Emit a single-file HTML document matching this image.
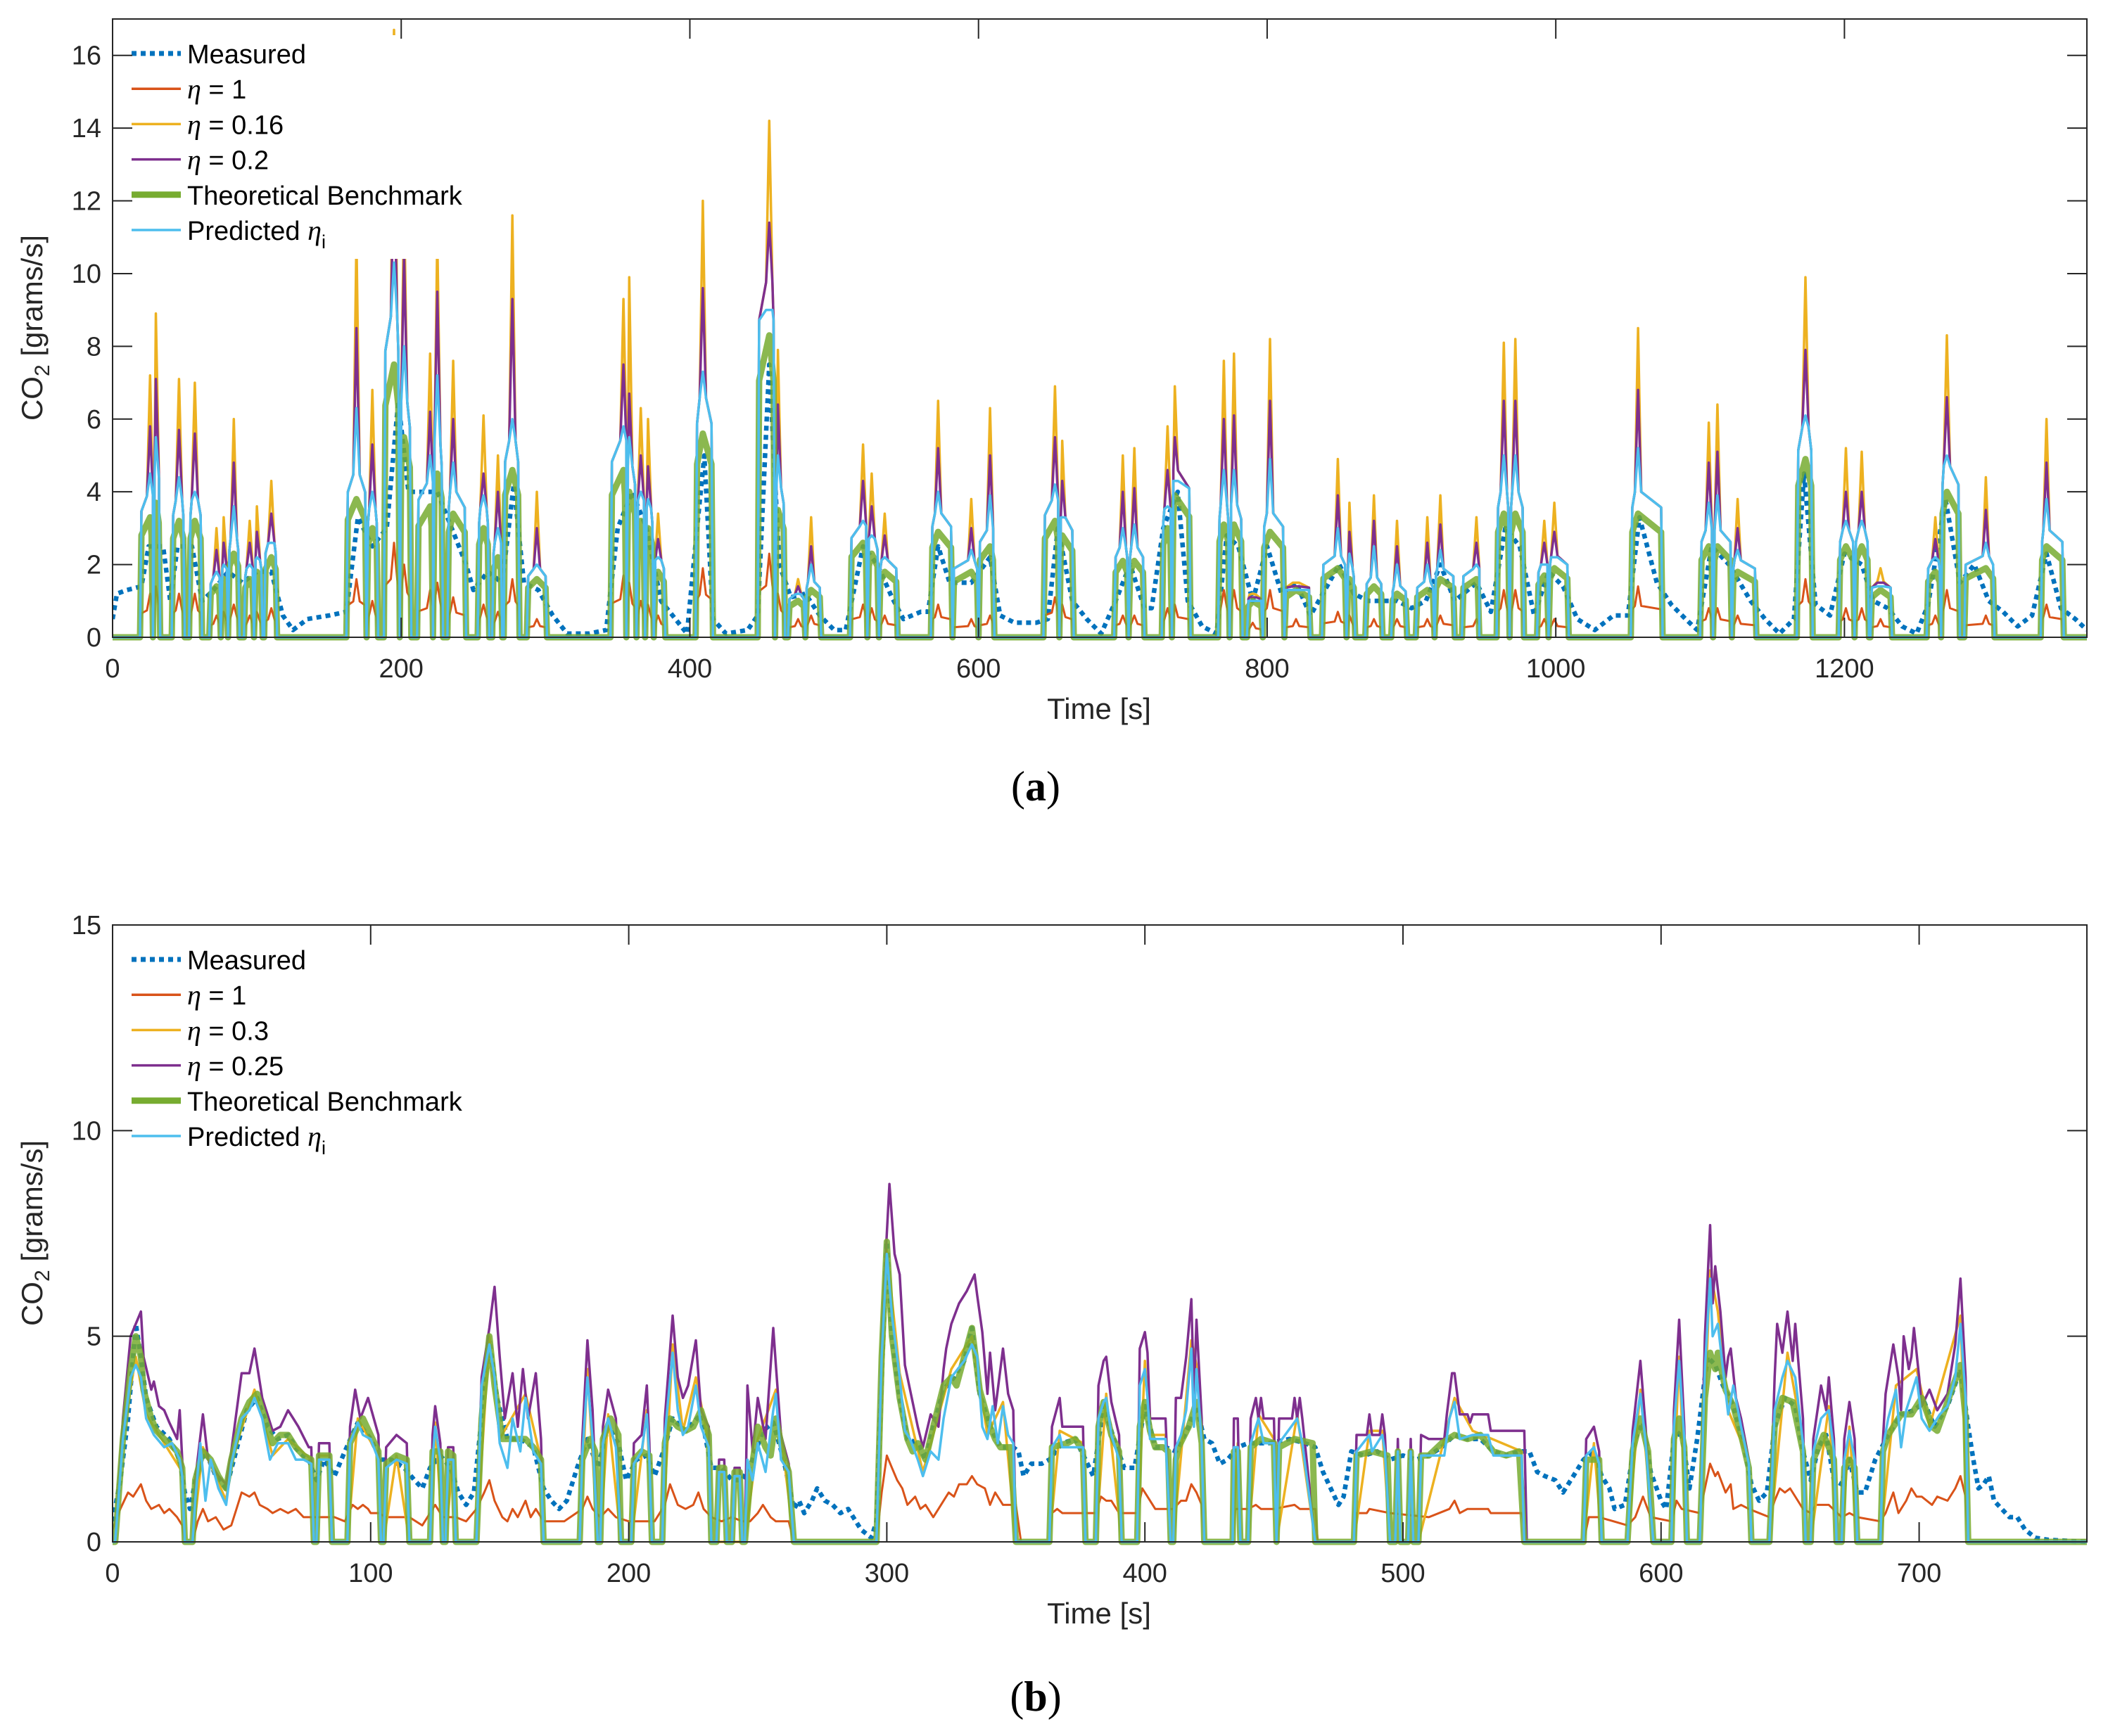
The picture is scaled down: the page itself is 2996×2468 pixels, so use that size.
<!DOCTYPE html>
<html><head><meta charset="utf-8"><style>
html,body{margin:0;padding:0;background:#fff;}
svg{display:block;}
text{font-family:"Liberation Sans",Arial,sans-serif;fill:#262626;}
.eta{font-family:"Liberation Serif",serif;font-style:italic;}
</style></head><body>
<svg id="fig" xmlns="http://www.w3.org/2000/svg" width="2996" height="2468" viewBox="0 0 2996 2468">
<defs>
<clipPath id="clipTop"><rect x="160" y="27" width="2806" height="886"/></clipPath>
<clipPath id="clipBot"><rect x="160" y="1315" width="2806" height="884"/></clipPath>
</defs>
<rect x="0" y="0" width="2996" height="2468" fill="#fff"/>
<g id="chartA"></g>
<g id="chartB"></g>

<text x="1562" y="1022" font-size="42" text-anchor="middle">Time [s]</text>
<text transform="translate(60,466) rotate(-90)" font-size="42" text-anchor="middle">CO<tspan font-size="30" dy="10">2</tspan><tspan dy="-10"> [grams/s]</tspan></text>
<text x="1472" y="1138" font-size="60" text-anchor="middle" style="font-family:'Liberation Serif',serif;fill:#000">(<tspan font-weight="bold">a</tspan>)</text>
<text x="1562" y="2308" font-size="42" text-anchor="middle">Time [s]</text>
<text transform="translate(60,1753) rotate(-90)" font-size="42" text-anchor="middle">CO<tspan font-size="30" dy="10">2</tspan><tspan dy="-10"> [grams/s]</tspan></text>
<text x="1472" y="2432" font-size="60" text-anchor="middle" style="font-family:'Liberation Serif',serif;fill:#000">(<tspan font-weight="bold">b</tspan>)</text>
</svg>
<script>
// ---------- Chart (a) data ----------
const aXTicks = [0,200,400,600,800,1000,1200];
const aYTicks = [0,2,4,6,8,10,12,14,16];
const aMeasured = [0,0.5,3,1.2,10,1.3,20,1.4,25,2.5,35,2.5,40,1.0,45,2.5,55,2.5,62,1.0,70,1.3,80,1.8,90,1.5,100,1.8,110,1.8,118,0.6,125,0.2,135,0.5,150,0.6,162,0.7,170,3.3,180,2.5,190,3,198,6.5,205,4,215,4,225,4,235,3,245,2,250,1.3,260,1.8,270,1.5,278,4.2,285,1.5,295,1.3,305,0.6,315,0.1,330,0.1,342,0.2,350,3.0,360,4,370,3,380,1.0,390,0.5,398,0.1,405,3,410,5,416,0.5,425,0.1,440,0.2,447,0.6,455,7.5,462,2,470,1.1,480,1.2,490,0.6,500,0.2,508,0.2,520,2.5,530,2.0,540,1.1,548,0.5,560,0.7,565,0.7,572,2.5,580,1.5,595,1.5,608,2.2,615,0.6,625,0.4,640,0.4,648,0.5,655,3.0,665,1.0,675,0.5,685,0.1,695,1.0,705,2,715,0.8,720,0.8,728,3,738,4,745,1.0,755,0.3,765,0.1,772,2.8,780,2.5,790,1.0,800,2.5,810,1.2,820,1.5,830,0.6,840,1.3,850,2,860,1.2,870,1.0,880,1.0,890,1.0,900,0.8,910,1.0,920,2,930,1.0,945,1.5,955,0.7,965,3,975,2.5,985,0.6,995,1.8,1005,1.4,1015,0.5,1027,0.2,1040,0.6,1050,0.6,1058,3.3,1070,1.5,1080,0.9,1090,0.5,1098,0.2,1108,2.5,1120,2,1135,1.0,1145,0.5,1155,0.1,1165,0.5,1172,4.5,1180,0.9,1190,0.6,1200,2.3,1212,2,1220,1.0,1230,0.8,1240,0.3,1250,0.1,1258,0.9,1270,3.8,1280,1.5,1290,2,1300,1.0,1310,0.7,1320,0.3,1330,0.6,1340,2.3,1350,0.8,1360,0.5,1368,0.2];
const aSpikeStart = [19,28,41,53,67,75,80,91,98,105,162,176,188,199,211,222,232,253,263,271,287,345,356,363,369,375,404,447,459,468,480,511,523,531,567,582,600,645,656,694,704,727,734,766,774,786,797,812,838,855,868,886,903,916,935,959,968,987,995,1052,1100,1109,1122,1167,1196,1207,1218,1257,1267,1283,1336];
const aSpikePeakT = [26,30,46,57,72,77,84,95,100,110,169,180,195,202,220,225,236,257,267,277,294,354,358,366,371,378,409,455,461,475,484,520,526,535,572,595,608,653,658,700,708,731,736,770,777,790,802,820,849,857,874,890,911,920,945,964,972,992,999,1057,1106,1112,1126,1173,1201,1212,1225,1263,1271,1298,1340];
const aSpikeEnd = [28,33,50,62,75,80,88,98,104,114,176,184,199,207,222,229,245,261,270,282,301,356,363,369,375,383,416,459,466,480,491,523,531,544,582,600,611,656,666,704,715,734,747,774,783,797,812,830,855,861,880,897,916,930,947,968,978,995,1009,1074,1109,1122,1139,1178,1207,1217,1233,1267,1280,1304,1352];
const aEta016 = [7.2,8.9,7.1,7.0,3.0,3.3,6.0,3.2,3.6,4.3,11,6.8,16.7,12,7.8,11,7.6,6.1,5.0,11.6,4.0,9.3,9.9,6.3,6.0,3.4,12.0,14.2,7.9,1.6,3.3,5.3,4.5,3.4,6.5,3.8,6.3,6.9,5.4,5.0,5.2,5.8,6.9,7.6,7.8,1.2,8.2,1.5,4.9,3.7,3.9,3.2,3.3,3.9,3.3,8.1,8.2,3.2,3.7,8.5,5.9,6.4,3.8,9.9,5.2,5.1,1.9,3.3,8.3,4.4,6.0];
const aEta02 = [5.8,7.1,5.7,5.6,2.4,2.6,4.8,2.6,2.9,3.4,8.5,5.3,13,10.5,6.2,9.5,6.0,4.5,4.0,9.3,3.0,7.5,6.7,5.0,4.7,2.7,9.6,11.4,6.4,1.4,2.5,4.3,3.6,2.8,5.2,3.0,5.0,5.5,4.3,4.0,4.1,4.6,5.5,6.0,6.1,1.1,6.5,1.4,3.9,2.9,3.2,2.5,2.6,3.1,2.6,6.5,6.5,2.6,2.9,6.8,4.8,5.1,3.0,7.9,4.0,4.0,1.5,2.7,6.6,3.5,4.8];
const aPredicted = [4.5,5.5,4.4,4.0,1.8,2.0,3.6,2.0,2.2,2.6,6.3,4.0,10.3,8,5.0,7.2,4.8,3.9,3.0,6.0,2.0,5.8,5.5,4.0,3.8,2.2,7.3,9.0,5.0,1.2,2.0,3.2,2.8,2.2,4.0,2.4,3.9,4.2,3.3,3.0,3.1,3.6,4.3,4.6,4.6,1.0,4.9,1.3,3.0,2.3,2.5,2.0,2.0,2.4,2.0,5.0,5.0,2.0,2.2,5.2,3.7,3.9,2.4,6.1,3.2,3.2,1.4,2.2,5.0,2.6,3.8];
const aBenchmark = [3.3,3.7,3.2,3.2,1.4,1.6,2.3,1.6,1.8,2.2,3.8,3.0,7.5,5.5,3.6,4.5,3.4,3.0,2.2,4.6,1.6,4.6,4.0,3.2,3.0,1.8,5.6,8.3,3.5,1.0,1.3,2.6,2.3,1.8,2.9,1.8,2.5,3.2,2.8,2.1,2.1,3.0,3.9,3.1,3.1,1.0,2.9,1.3,1.9,1.6,1.4,1.2,1.3,1.6,1.6,3.4,3.4,1.7,1.9,3.4,2.5,2.5,1.8,4.9,2.5,2.5,1.3,1.8,4.0,1.9,2.5];
const aEta1 = [1.2,1.4,1.2,1.2,0.6,0.7,0.9,0.6,0.7,0.8,1.6,1.0,2.6,2.0,1.3,1.5,1.1,0.9,0.7,1.6,0.5,1.7,1.5,1.0,0.9,0.6,1.9,2.3,1.2,0.5,0.6,0.9,0.8,0.6,0.9,0.5,0.6,1.1,0.9,0.6,0.6,0.8,0.9,1.3,1.3,0.4,1.3,0.5,0.7,0.6,0.5,0.5,0.5,0.6,0.5,1.3,1.3,0.5,0.5,1.4,0.8,0.8,0.6,1.6,0.8,0.8,0.5,0.6,1.3,0.6,0.9];

// ---------- Chart (b) data (flat time,value pairs) ----------
const bXTicks = [0,100,200,300,400,500,600,700];
const bYTicks = [0,5,10,15];
const bMeasured = [0,0.5,3,1.5,6,3.0,9,5.3,11,4.5,13,3.5,17,2.8,22,2.5,26,2.0,28,1.2,30,0.8,33,1.8,36,2.2,40,1.6,44,1.3,47,2.0,52,3.2,56,3.5,60,2.8,64,2.5,68,2.6,72,2.2,76,2.0,79,1.5,82,2.0,86,1.6,90,2.2,95,2.9,100,2.5,104,2.0,108,2.0,113,1.8,117,1.5,120,1.3,123,1.8,127,2.1,131,1.8,134,1.2,137,0.9,140,1.2,143,3.0,146,4.9,149,3.5,153,2.5,158,2.5,163,2.3,167,1.3,170,1.0,173,0.8,176,1.0,180,1.8,184,2.5,188,1.8,192,2.8,196,2.4,199,1.5,203,2.0,207,2.1,210,1.6,214,2.3,217,3.0,222,2.7,228,3.1,232,1.8,236,1.8,240,1.5,244,1.5,248,2.0,252,2.7,256,2.9,260,2.0,264,0.8,266,1.0,268,0.7,271,1.0,273,1.3,276,1.0,279,0.9,282,0.7,285,0.8,290,0.3,294,0.1,296,0.5,298,4.0,300,7.3,302,5.0,305,3.5,308,2.5,312,2.4,315,2.0,318,2.8,322,3.7,326,4.0,330,4.4,333,5.2,336,3.6,340,2.8,344,2.3,349,2.3,351,2.2,353,1.6,356,1.9,360,1.9,363,2.0,368,2.4,373,2.5,377,2.0,380,1.6,384,3.3,388,2.5,392,1.8,396,1.8,400,3.3,404,2.3,408,2.3,412,2.2,417,2.8,420,3.3,423,2.5,426,2.4,429,1.9,432,2.0,436,2.3,440,2.4,448,2.4,456,2.5,462,2.4,466,2.3,469,1.7,472,1.3,475,0.9,477,1.1,480,2.2,485,2.1,490,2.2,495,2.0,500,2.1,505,2.0,510,2.1,515,2.3,520,2.6,525,2.5,530,2.5,535,2.2,540,2.1,545,2.2,549,2.2,552,1.7,555,1.6,559,1.5,562,1.2,566,1.6,570,2.0,574,2.2,577,1.6,580,1.3,582,0.8,586,0.9,590,2.5,593,2.9,596,1.7,600,1.0,602,0.8,605,2.5,608,2.7,611,1.3,614,2.5,618,4.5,621,4.3,624,3.8,628,3.3,632,2.4,635,1.4,638,1.0,641,1.2,644,2.8,648,3.5,652,3.3,655,2.2,658,1.5,661,2.3,664,2.6,667,1.5,670,1.4,673,2.0,676,1.2,679,1.2,683,2.0,688,2.6,693,3.1,698,3.2,702,3.4,706,2.8,711,3.3,716,4.2,719,2.8,721,2.0,723,1.3,725,1.4,727,1.6,729,1.0,732,0.8,735,0.6,738,0.6,741,0.3,745,0.1,750,0.05,765,0.0];
const bEta1 = [0,0.3,3,0.8,6,1.2,8,1.1,11,1.4,13,1.0,15,0.8,18,0.9,20,0.7,22,0.8,25,0.6,27,0.4,28,0,31,0,33,0.5,35,0.8,37,0.5,40,0.6,43,0.3,46,0.4,48,0.8,50,1.2,53,1.1,55,1.2,57,0.9,60,0.8,62,0.7,65,0.8,68,0.7,71,0.8,74,0.6,77,0.6,80,0.6,84,0.6,86,0.6,90,0.5,93,0.9,95,0.8,97,0.9,99,0.8,100,0.7,103,0.7,106,0.6,110,0.6,112,0.6,115,0.6,120,0.4,125,0.9,128,0.6,130,0.6,133,0.6,137,0.5,141,0.8,144,1.2,146,1.5,148,1.0,151,0.6,153,0.5,155,0.8,157,0.6,160,1.0,162,0.6,164,0.8,167,0.5,175,0.5,182,0.8,184,1.1,186,0.8,189,0.6,192,0.8,195,0.6,200,0.5,205,0.5,210,0.5,214,0.9,216,1.4,219,0.9,222,0.8,225,0.9,227,1.2,229,0.8,232,0.6,236,0.5,240,0.6,244,0.5,247,0.5,250,0.7,252,0.9,255,0.6,257,0.5,262,0.5,264,0,296,0,298,1.2,300,2.1,302,1.8,304,1.5,306,1.3,308,0.9,311,1.1,313,0.8,315,0.9,318,0.6,320,0.8,324,1.2,326,1.1,328,1.4,331,1.4,333,1.6,335,1.4,338,1.3,340,0.9,342,1.2,344,1.0,345,0.9,350,0.9,352,0,363,0,364,0.7,366,0.8,368,0.7,376,0.7,381,0.7,383,1.1,385,1.0,387,1.0,390,0.7,397,0.7,399,1.3,401,1.1,404,0.8,408,0.8,411,0.8,414,1.0,416,1.0,418,1.4,420,1.2,422,0.9,423,0,434,0,435,0.8,440,0.8,443,0.9,445,0.8,450,0.8,458,0.9,460,0.8,466,0.8,467,0,481,0,482,0.7,486,0.7,487,0.8,495,0.7,510,0.6,518,0.8,520,1.0,522,0.7,525,0.8,533,0.8,534,0.7,546,0.7,548,0,570,0,572,0.6,576,0.6,587,0.4,590,0.6,593,1.1,596,0.6,604,0.5,606,1.0,608,0.8,615,0.7,617,1.3,619,1.9,621,1.6,622,1.7,625,1.2,627,1.4,628,0.8,631,0.9,634,0.8,642,0.6,644,1.0,646,1.3,648,1.2,650,1.3,653,1.0,655,0.8,658,0.7,660,0.9,663,0.9,665,0.9,670,0.6,673,0.7,676,0.6,685,0.5,687,0.7,690,1.2,692,0.7,695,1.0,697,1.3,699,1.1,701,1.1,705,0.9,707,1.1,711,1.0,714,1.3,716,1.6,718,1.1,719,0,765,0];
const bEta03 = [0,0,1,0,4,2.6,9,4.5,13,3.1,20,2.4,27,1.7,28,0,31,0,35,2.3,44,1.0,46,2.0,55,3.7,62,2.1,68,2.5,77,2.0,78,0,79,0,80,2.1,84,2.1,85,0,91,0,95,3.0,103,2.1,104,0,105,0,110,2.1,115,0,123,0,125,2.9,128,0,129,0,132,2.1,133,0,141,0,146,5.0,150,2.5,160,3.6,166,2.0,167,0,181,0,184,4.2,188,0,189,0,192,3.1,197,0,201,0,207,3.2,209,0,213,0,217,4.8,221,2.7,226,4.0,231,2.4,232,0,245,0,250,2.5,257,3.7,264,0,296,0,300,7.1,305,4.1,314,1.7,325,4.2,333,5.0,339,2.6,345,3.4,350,0,363,0,367,2.7,376,2.4,377,0,381,0,385,3.6,391,0,397,0,400,4.4,402,2.6,408,2.6,410,0,411,0,418,4.9,420,4.3,422,2.5,423,0,434,0,436,2.4,437,0,440,0,444,3.1,450,2.5,451,0,459,3.1,466,0,481,0,487,2.7,492,2.7,495,0,506,0,520,3.5,527,2.7,546,2.2,547,0,570,0,574,2.4,577,0,587,0,592,3.7,597,0,604,0,607,4.5,610,0,615,0,619,6.6,622,5.6,626,3.2,634,2.0,635,0,642,0,649,4.6,655,2.5,656,0,658,0,665,3.3,668,0,670,0,673,2.8,676,0,685,0,691,3.8,699,4.2,704,2.8,716,5.5,719,0,765,0];
const bEta025 = [0,0,1,0,4,3.0,7,5.0,9,5.3,11,5.6,12,4.5,15,3.7,16,3.9,18,3.3,20,3.2,22,2.9,25,2.5,26,3.2,27,2.0,28,0,31,0,32,1.5,35,3.1,37,2.0,41,1.6,44,1.4,46,2.2,50,4.1,53,4.1,55,4.7,58,3.5,60,3.1,62,2.7,65,2.8,68,3.2,70,3.0,72,2.8,76,2.3,77,2.3,78,0,79,0,80,2.4,84,2.4,85,0,91,0,92,2.8,94,3.7,96,3.0,99,3.5,103,2.6,104,0,105,0,106,2.3,110,2.6,114,2.4,115,0,123,0,124,2.6,125,3.3,127,2.4,128,0,129,0,130,2.3,132,2.3,133,0,141,0,143,4.0,146,5.2,148,6.2,150,4.5,152,3.0,155,4.1,157,2.8,159,4.2,161,3.0,164,4.1,166,2.5,167,0,181,0,182,2.5,184,4.9,186,3.2,188,0,189,0,190,2.8,192,3.7,195,3.0,197,0,201,0,202,2.4,205,2.6,207,3.8,208,2.4,209,0,213,0,214,3.0,217,5.5,219,4.0,221,3.5,223,3.8,226,4.9,228,3.2,231,2.8,232,0,234,0,235,2.0,237,2.0,238,0,240,0,241,1.8,243,1.8,244,0,245,0,246,3.8,248,2.2,250,3.5,253,2.5,256,5.2,257,4.3,259,2.6,262,1.9,264,0,296,0,298,5.0,300,7.5,301,8.7,303,7.0,305,6.5,307,4.3,309,3.7,312,2.8,314,2.3,317,3.1,320,2.8,322,4.2,323,4.7,325,5.3,328,5.8,331,6.1,334,6.5,335,6.0,337,5.1,339,3.6,340,4.6,342,3.2,345,4.7,347,3.6,349,3.2,350,0,363,0,364,2.8,367,3.5,368,2.8,376,2.8,377,0,381,0,382,3.8,384,4.4,385,4.5,387,3.4,390,2.6,391,0,397,0,398,4.7,400,5.1,401,4.6,402,3.0,408,3.0,410,0,411,0,412,3.5,414,3.5,416,4.5,418,5.9,419,3.5,420,5.4,422,3.0,423,0,434,0,434.5,3.0,436,3.0,437,0,440,0,441,3.0,443,3.5,444,3.0,445,3.5,446,3.0,450,3.0,451,0,452,3.0,457,3.0,458,3.5,459,3.0,460,3.5,461,3.0,466,0,481,0,482,2.6,486,2.6,487,3.1,488,2.6,491,2.6,492,3.1,493,2.6,495,0,497,0,498,2.5,499,0,502,0,503,2.5,504,0,506,0,507,2.6,510,2.5,516,2.5,517,3.1,519,4.1,520,4.1,522,3.1,525,3.1,526,2.9,527,3.1,533,3.1,534,2.7,547,2.7,548,0,570,0,571,2.5,574,2.8,576,2.2,577,0,587,0,589,2.7,592,4.4,594,2.8,597,0,604,0,605,3.2,607,5.4,609,2.8,610,0,615,0,617,5.0,619,7.7,620,5.8,621,6.7,623,5.6,625,4.0,626,4.5,627,4.7,629,3.5,631,3.0,634,2.0,635,0,642,0,644,4.0,645,5.3,647,4.6,649,5.6,651,4.4,652,5.3,655,3.0,656,0,658,0,659,2.5,662,3.8,664,3.2,665,4.0,667,2.5,668,0,670,0,671,2.5,673,3.4,675,2.5,676,0,685,0,686,2.5,687,3.6,690,4.8,692,4.0,693,3.2,694,5.0,696,4.2,697,4.5,698,5.2,700,4.0,701,3.3,704,3.7,707,3.2,709,3.4,711,3.6,714,4.8,716,6.4,718,4.0,719,0,765,0];
const bBenchmark = [0,0,1,0,4,2.5,7,4.2,9,5.0,11,4.5,12,3.7,15,3.0,17,2.7,20,2.5,22,2.4,25,2.2,27,1.8,28,0,31,0,32,1.5,35,2.2,38,2.0,41,1.6,44,1.3,46,2.0,50,3.0,53,3.4,56,3.6,59,3.0,62,2.4,65,2.6,68,2.6,71,2.3,74,2.1,77,2.0,78,0,79,0,80,2.1,84,2.1,85,0,91,0,92,2.4,95,2.8,97,3.0,100,2.6,103,2.2,104,0,105,0,106,1.9,110,2.1,114,2.0,115,0,123,0,124,2.2,127,2.2,128,0,129,0,130,2.2,132,2.1,133,0,141,0,143,3.0,146,5.0,148,3.8,151,2.5,155,2.5,160,2.5,163,2.3,166,2.0,167,0,181,0,182,2.0,185,2.5,187,2.2,188,0,189,0,190,2.5,193,3.0,196,2.6,197,0,201,0,202,2.0,205,2.2,208,2.1,209,0,213,0,214,2.4,216,3.0,219,2.8,222,2.7,225,2.8,228,3.2,231,2.6,232,0,234,0,235,1.8,237,1.8,238,0,240,0,241,1.7,243,1.7,244,0,245,0,247,1.5,250,2.8,253,2.3,255,2.1,257,3.0,260,2.1,262,1.7,264,0,296,0,298,4.5,300,7.3,302,5.0,305,3.5,308,2.5,310,2.2,312,2.4,315,2.0,318,2.8,322,3.8,325,4.0,327,3.8,330,4.5,333,5.2,336,3.7,340,2.8,342,2.5,344,2.3,348,2.3,350,0,363,0,364,2.3,370,2.4,373,2.5,376,2.2,377,0,381,0,382,2.8,384,3.4,387,2.6,390,2.2,391,0,397,0,398,2.8,400,3.4,402,2.7,404,2.3,407,2.3,409,2.2,410,0,411,0,412,2.0,413,2.3,417,2.8,420,3.4,422,2.4,423,0,434,0,434.5,2.2,436,2.2,437,0,440,0,441,2.3,445,2.5,450,2.4,451,0,452,2.3,458,2.5,465,2.4,466,0,481,0,482,2.1,488,2.2,494,2.1,495,0,497,0,498,2.2,499,0,502,0,503,2.2,504,0,506,0,507,2.1,510,2.1,515,2.4,520,2.6,525,2.5,530,2.6,535,2.2,540,2.1,545,2.2,547,0,570,0,571,2.0,576,2.0,577,0,587,0,589,2.2,592,3.0,595,2.2,597,0,604,0,605,2.5,607,3.0,609,2.3,610,0,615,0,617,3.5,619,4.6,621,4.2,622,4.6,625,3.7,628,3.3,631,2.6,634,1.8,635,0,642,0,644,2.8,647,3.5,651,3.4,655,2.2,656,0,658,0,659,2.0,663,2.6,667,2.0,668,0,670,0,671,1.8,673,2.0,675,1.8,676,0,685,0,686,2.2,688,2.6,693,3.1,697,3.1,701,3.5,705,2.8,707,2.7,711,3.4,716,4.3,718,3.0,719,0,765,0];
const bPredicted = [0,0,1,0,4,2.5,7,4.0,9,4.3,11,4.0,13,3.0,16,2.6,20,2.3,23,2.4,26,2.0,27,1.6,28,0,31,0,32,1.0,34,2.4,36,1.0,38,2.0,41,1.3,44,0.9,46,1.9,50,3.0,53,3.2,55,3.5,58,3.0,61,2.0,64,2.4,68,2.4,71,2.0,74,2.0,77,1.9,78,0,79,0,80,2.0,84,2.0,85,0,91,0,92,2.4,95,2.9,97,2.6,100,2.5,103,2.0,104,0,105,0,106,1.8,110,2.0,114,1.9,115,0,123,0,124,2.0,125,2.8,127,2.0,128,0,129,0,130,2.0,132,2.0,133,0,141,0,143,3.8,146,4.8,148,4.0,150,2.4,153,1.8,155,3.0,158,2.2,160,3.5,163,2.2,166,1.9,167,0,181,0,182,2.1,184,4.0,186,2.5,188,0,189,0,190,2.4,192,3.0,195,2.3,197,0,201,0,202,1.9,205,2.2,207,3.1,208,2.0,209,0,213,0,214,2.6,217,4.6,219,3.2,221,2.6,223,2.8,226,3.8,228,2.8,231,2.3,232,0,234,0,235,1.7,237,1.7,238,0,240,0,241,1.6,243,1.6,244,0,245,0,246,2.0,248,1.5,250,2.4,253,1.7,256,3.2,257,3.6,259,2.0,262,1.7,264,0,296,0,298,4.5,300,7.0,302,5.5,305,4.0,307,2.7,309,2.5,312,2.0,314,1.6,317,2.2,320,2.0,322,3.0,325,4.0,330,4.4,333,4.8,335,4.5,337,2.8,339,2.5,341,3.3,343,2.4,345,3.3,347,2.6,349,2.4,350,0,363,0,364,2.3,367,2.6,368,2.3,376,2.3,377,0,381,0,382,3.0,384,3.4,385,3.5,387,2.6,390,2.0,391,0,397,0,398,3.8,400,4.2,401,3.5,402,2.5,408,2.5,410,0,411,0,412,2.3,414,2.6,416,3.2,418,4.7,419,2.8,420,4.2,422,2.4,423,0,434,0,434.5,2.3,436,2.3,437,0,440,0,441,2.4,444,3.0,446,2.4,450,2.4,451,0,452,2.4,459,3.0,461,2.4,466,0,481,0,482,2.2,487,2.6,488,2.2,492,2.6,493,2.2,495,0,497,0,498,2.2,499,0,502,0,503,2.2,504,0,506,0,507,2.1,510,2.1,516,2.1,518,3.0,520,3.4,522,2.5,527,2.6,533,2.6,535,2.1,546,2.1,547,0,570,0,571,2.1,574,2.3,576,1.9,577,0,587,0,589,2.4,592,3.6,594,2.4,597,0,604,0,605,2.8,607,4.4,609,2.5,610,0,615,0,617,4.2,619,6.4,620,5.0,622,5.3,624,4.2,626,3.1,628,3.8,631,2.8,634,1.9,635,0,642,0,644,3.2,647,4.0,649,4.4,652,4.0,655,2.4,656,0,658,0,659,2.2,662,3.0,665,3.2,667,2.2,668,0,670,0,671,2.0,673,2.7,675,2.0,676,0,685,0,686,2.3,688,3.0,691,3.7,693,2.3,695,3.2,697,3.6,699,4.0,701,3.0,704,2.7,708,3.1,711,3.3,714,4.0,716,5.3,718,3.5,719,0,765,0];

// ---------- helpers ----------
const NS = "http://www.w3.org/2000/svg";
const COLORS = {meas:"#0072BD", eta1:"#D95319", y:"#EDB120", p:"#7E2F8E", g:"#77AC30", c:"#4DBEEE"};
function mk(tag, attrs, parent){
  const e = document.createElementNS(NS, tag);
  for (const k in attrs) e.setAttribute(k, attrs[k]);
  parent.appendChild(e);
  return e;
}
function pairs(flat){ const r=[]; for(let i=0;i<flat.length;i+=2) r.push([flat[i],flat[i+1]]); return r; }
function spikeSeries(values, mode){
  const pts=[[0,0]];
  for(let i=0;i<aSpikeStart.length;i++){
    const t0=aSpikeStart[i], tp=aSpikePeakT[i], t1=aSpikeEnd[i], V=values[i], G=aBenchmark[i];
    if(mode==="green"){
      pts.push([t0,0],[Math.min(t0+1,tp),G*0.85],[tp,G],[Math.max(t1-1,tp),G*0.85],[t1,0]);
    } else {
      const b = mode==="orange" ? V*0.55 : Math.min(G*1.05, V);
      const a1=Math.min(t0+1,tp), a2=Math.max(a1,tp-2.2), a3=Math.min(t1,tp+2.2), a4=Math.max(a3,t1-1);
      pts.push([t0,0],[a1,b],[a2,Math.min(V,b*1.12)],[tp,V],[a3,Math.min(V,b*1.12)],[a4,b],[t1,0]);
    }
  }
  pts.push([1368,0]);
  return pts;
}
function pathD(pts, xf, yf){
  return pts.map((p,i)=>(i?"L":"M")+xf(p[0]).toFixed(1)+","+yf(p[1]).toFixed(1)).join("");
}

function drawAxes(g, box, xf, yf, xTicks, yTicks, nameSuffix){
  const axis = mk("g", {}, g);
  
  
  const frame = mk("rect", {x:box.x, y:box.y, width:box.w, height:box.h, fill:"none", stroke:"#262626", "stroke-width":2}, axis);
  
  
  xTicks.forEach(t=>{
    const x = xf(t);
    const tk = mk("path", {d:`M${x},${box.y+box.h}v-28M${x},${box.y}v28`, stroke:"#262626", "stroke-width":2}, axis);
    
    
    const lb = mk("text", {x:x, y:box.y+box.h+57, "font-size":38, "text-anchor":"middle"}, axis);
    lb.textContent = String(t);
    
    
  });
  yTicks.forEach(v=>{
    const y = yf(v);
    const tk = mk("path", {d:`M${box.x},${y}h28M${box.x+box.w},${y}h-28`, stroke:"#262626", "stroke-width":2}, axis);
    
    
    const lb = mk("text", {x:box.x-16, y:y+13, "font-size":38, "text-anchor":"end"}, axis);
    lb.textContent = String(v);
    
    
  });
}
function drawSeries(g, pts, xf, yf, style, name){
  const p = mk("path", Object.assign({d:pathD(pts,xf,yf), fill:"none", "stroke-linejoin":"round"}, style), g);
  
  
  return p;
}
function drawLegend(g, x, y0, labels, nameSuffix){
  const lg = mk("g", {}, g);
  
  
  const bg = mk("rect", {x:x-18, y:y0-26, width:520, height:318, fill:"#fff"}, lg);
  
  
  const styles = [
    {stroke:COLORS.meas,"stroke-width":7,"stroke-dasharray":"7 6"},
    {stroke:COLORS.eta1,"stroke-width":3.5},
    {stroke:COLORS.y,"stroke-width":3.5},
    {stroke:COLORS.p,"stroke-width":3.5},
    {stroke:COLORS.g,"stroke-width":9},
    {stroke:COLORS.c,"stroke-width":3.5}
  ];
  labels.forEach((lab,i)=>{
    const y = y0 + i*50.2;
    const entry = mk("g", {}, lg);
    
    
    mk("path", Object.assign({d:`M${x+9},${y}h70`, fill:"none"}, styles[i]), entry);
    const t = mk("text", {x:x+88, y:y+14, "font-size":38, style:"fill:#000"}, entry);
    if(lab.eta){
      const e = mk("tspan", {class:"eta", "font-size":40}, t); e.textContent = "η";
      const r = mk("tspan", {}, t); r.textContent = " = " + lab.v;
    } else if(lab.pred){
      const r = mk("tspan", {}, t); r.textContent = "Predicted ";
      const e = mk("tspan", {class:"eta", "font-size":40}, t); e.textContent = "η";
      const s = mk("tspan", {"font-size":27, dy:12}, t); s.textContent = "i";
    } else {
      t.textContent = lab.text;
    }
  });
}

(function(){
  const g = document.getElementById("chartA");
  const box = {x:160, y:27, w:2806, h:879};
  const xf = t => box.x + t*(box.w/1368);
  const yf = v => box.y + box.h - v*(box.h/17);
  const data = mk("g", {"clip-path":"url(#clipTop)"}, g);
  
  
  drawSeries(data, pairs(aMeasured), xf, yf, {stroke:COLORS.meas,"stroke-width":6.5,"stroke-dasharray":"7 6"}, "measured-line-a");
  drawSeries(data, spikeSeries(aEta1,"orange"), xf, yf, {stroke:COLORS.eta1,"stroke-width":3}, "eta-1-line-a");
  drawSeries(data, spikeSeries(aEta016,"spike"), xf, yf, {stroke:COLORS.y,"stroke-width":3.5}, "eta-0.16-line");
  drawSeries(data, spikeSeries(aEta02,"spike"), xf, yf, {stroke:COLORS.p,"stroke-width":3.5}, "eta-0.2-line");
  drawSeries(data, spikeSeries(aBenchmark,"green"), xf, yf, {stroke:COLORS.g,"stroke-width":9,"stroke-opacity":0.85}, "benchmark-line-a");
  drawSeries(data, spikeSeries(aPredicted,"spike"), xf, yf, {stroke:COLORS.c,"stroke-width":3.5}, "predicted-line-a");
  drawLegend(g, 178, 76, [{text:"Measured"},{eta:1,v:"1"},{eta:1,v:"0.16"},{eta:1,v:"0.2"},{text:"Theoretical Benchmark"},{pred:1}], "a");
  drawAxes(g, box, xf, yf, aXTicks, aYTicks, "a");
})();

(function(){
  const g = document.getElementById("chartB");
  const box = {x:160, y:1315, w:2806, h:877};
  const xf = t => box.x + t*(box.w/765);
  const yf = v => box.y + box.h - v*(box.h/15);
  const data = mk("g", {"clip-path":"url(#clipBot)"}, g);
  
  
  drawSeries(data, pairs(bMeasured), xf, yf, {stroke:COLORS.meas,"stroke-width":6.5,"stroke-dasharray":"7 6"}, "measured-line-b");
  drawSeries(data, pairs(bEta1), xf, yf, {stroke:COLORS.eta1,"stroke-width":3}, "eta-1-line-b");
  drawSeries(data, pairs(bEta03), xf, yf, {stroke:COLORS.y,"stroke-width":3.5}, "eta-0.3-line");
  drawSeries(data, pairs(bEta025), xf, yf, {stroke:COLORS.p,"stroke-width":3.5}, "eta-0.25-line");
  drawSeries(data, pairs(bBenchmark), xf, yf, {stroke:COLORS.g,"stroke-width":9,"stroke-opacity":0.85}, "benchmark-line-b");
  drawSeries(data, pairs(bPredicted), xf, yf, {stroke:COLORS.c,"stroke-width":3.5}, "predicted-line-b");
  drawLegend(g, 178, 1364, [{text:"Measured"},{eta:1,v:"1"},{eta:1,v:"0.3"},{eta:1,v:"0.25"},{text:"Theoretical Benchmark"},{pred:1}], "b");
  drawAxes(g, box, xf, yf, bXTicks, bYTicks, "b");
})();
</script>
</body></html>
